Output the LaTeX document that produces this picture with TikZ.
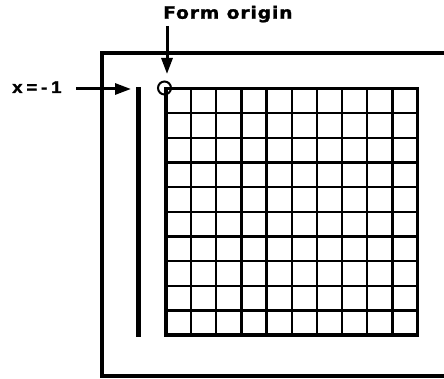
\documentclass[tikz,border=0pt]{standalone}
\usepackage{fontspec}
\setmainfont{Liberation Sans}
\newfontfamily\lblfont[LetterSpace=5,FakeStretch=1.1,FakeBold=1.5]{DejaVu Sans}
\newfontfamily\xfont[FakeStretch=1.1,FakeBold=1.5]{Liberation Sans}
\usetikzlibrary{arrows.meta}
\begin{document}
\begin{tikzpicture}[x=1pt,y=-1pt,
  frame/.style={line width=4pt},
  gridline/.style={line width=2.3pt},
  gridborder/.style={line width=3.5pt, line join=miter},
  bar/.style={line width=4.5pt},
  arr/.style={line width=3pt, -{Triangle[length=16pt,width=11pt]}},
  lbl/.style={inner sep=0pt}]
\clip (0,0) rectangle (444,379);
\fill[white] (0,0) rectangle (444,379);
% outer frame (right side cut off)
\draw[frame] (446,53) -- (101.5,53) -- (101.5,375.5) -- (446,375.5);
% grid 10 x 10
\foreach \i in {1,...,9} {
  \draw[gridline] ({166+\i*25.15},88.5) -- ({166+\i*25.15},335);
  \draw[gridline] (166,{88.5+\i*24.65}) -- (417.5,{88.5+\i*24.65});
}
\draw[gridborder] (166,88.5) rectangle (417.5,335);
% vertical bar x = -1
\draw[bar] (138.5,87.5) -- (138.5,337);
% origin marker
\coordinate (origin) at (164.5,88);
\draw[line width=2pt] (origin) circle (6.5pt);
% labels
\node[lbl, anchor=base west, font=\lblfont\bfseries\fontsize{17}{20}\selectfont] (formlbl) at (163,18.7) {Form origin};
\node[lbl, anchor=base west, font=\xfont\bfseries\fontsize{17}{20}\selectfont] (xlbl) at (12,93) {x\hspace{3.8pt}=\hspace{3.8pt}-\hspace{3.8pt}1};
% arrows
\coordinate (fstart) at (167,26);
\coordinate (ftip) at (167,74);
\draw[arr] (fstart) -- (ftip);
\coordinate (xstart) at (76,89);
\coordinate (xtip) at (131,89);
\draw[arr] (xstart) -- (xtip);
\end{tikzpicture}
\end{document}
